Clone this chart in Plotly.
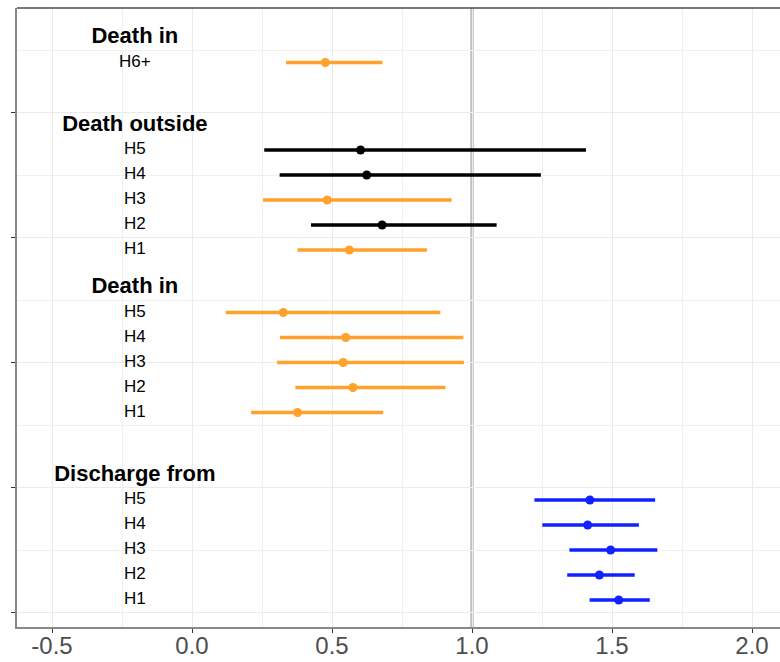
import plotly.graph_objects as go

# ---- data (bottom group first) ----
groups = ["Discharge from", "Death in", "Death outside", "Death in"]
group_base = [1, 8.5, 15, 22.5]          # y of first row in each group (numeric y scale)
labels = [
    ["H1", "H2", "H3", "H4", "H5"],
    ["H1", "H2", "H3", "H4", "H5"],
    ["H1", "H2", "H3", "H4", "H5"],
    ["H6+"],
]
estimate = [
    [1.524, 1.455, 1.495, 1.413, 1.421],
    [0.377, 0.575, 0.540, 0.549, 0.326],
    [0.562, 0.679, 0.483, 0.624, 0.602],
    [0.476],
]
lower = [
    [1.420, 1.340, 1.348, 1.251, 1.223],
    [0.211, 0.369, 0.304, 0.314, 0.121],
    [0.377, 0.425, 0.254, 0.313, 0.258],
    [0.336],
]
upper = [
    [1.635, 1.581, 1.662, 1.596, 1.654],
    [0.683, 0.905, 0.971, 0.969, 0.887],
    [0.839, 1.088, 0.927, 1.246, 1.407],
    [0.680],
]
kind = [
    ["up", "up", "up", "up", "up"],
    ["down", "down", "down", "down", "down"],
    ["down", "ns", "down", "ns", "ns"],
    ["down"],
]
ref_value = 1.0
x_ticks = [-0.5, 0.0, 0.5, 1.0, 1.5, 2.0]
x_tick_text = ["-0.5", "0.0", "0.5", "1.0", "1.5", "2.0"]

# ---- style ----
colors = {"up": "#1122ff", "down": "#ffa12b", "ns": "#000000"}
label_x = -0.204

fig = go.Figure()

for g, name in enumerate(groups):
    base = group_base[g]
    for i, lab in enumerate(labels[g]):
        y = base + i
        c = colors[kind[g][i]]
        fig.add_trace(go.Scatter(
            x=[lower[g][i], upper[g][i]], y=[y, y], mode="lines",
            line=dict(color=c, width=3.5), showlegend=False, hoverinfo="skip"))
        fig.add_trace(go.Scatter(
            x=[estimate[g][i]], y=[y], mode="markers",
            marker=dict(color=c, size=9), showlegend=False))
    # row labels
    fig.add_trace(go.Scatter(
        x=[label_x] * len(labels[g]), y=[base + i for i in range(len(labels[g]))],
        mode="text", text=labels[g], textposition="middle center",
        textfont=dict(family="Liberation Sans, Arial", size=17, color="black"),
        showlegend=False, hoverinfo="skip"))
    # header
    fig.add_trace(go.Scatter(
        x=[label_x], y=[base + len(labels[g])], mode="text",
        text=["<b>" + name + "</b>"], textposition="middle center",
        textfont=dict(family="Liberation Sans, Arial", size=22, color="black"),
        showlegend=False, hoverinfo="skip"))

fig.add_vline(x=ref_value, line=dict(color="#bebebe", width=3.5), layer="below")
fig.add_shape(type="line", xref="paper", yref="paper", x0=0, x1=1, y0=1, y1=1,
              line=dict(color="#4d4d4d", width=1.5))

fig.update_layout(
    width=780, height=662,
    margin=dict(l=17, r=0, t=8, b=35),
    paper_bgcolor="white", plot_bgcolor="white",
    xaxis=dict(
        range=[-0.625, 2.1], tickvals=x_ticks, ticktext=x_tick_text,
        automargin=False, ticklabelstandoff=-8,
        showgrid=True, gridcolor="#ebebeb", gridwidth=1.2,
        minor=dict(dtick=0.25, tick0=0, showgrid=True, gridcolor="#f0f0f0", gridwidth=1),
        ticks="outside", ticklen=4, tickcolor="#333333",
        showline=True, linecolor="#888888", linewidth=1.5,
        tickfont=dict(family="Liberation Sans, Arial", size=24, color="#4d4d4d"),
        zeroline=False,
    ),
    yaxis=dict(
        range=[-0.08, 24.68], tickvals=[0.5, 5.5, 10.5, 15.5, 20.5],
        automargin=False,
        showticklabels=False, ticks="outside", ticklen=4, tickcolor="#333333",
        showgrid=True, gridcolor="#ebebeb", gridwidth=1.2,
        minor=dict(tickvals=[3, 8, 13, 18, 23], showgrid=True, gridcolor="#f0f0f0", gridwidth=1),
        showline=True, linecolor="#888888", linewidth=1.5, zeroline=False,
    ),
)

fig.write_html("out.html")
